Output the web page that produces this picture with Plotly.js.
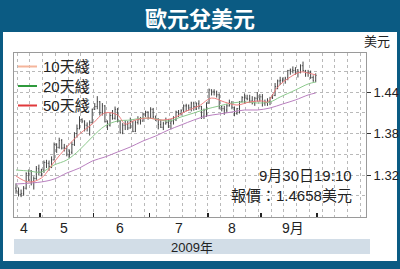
<!DOCTYPE html>
<html><head><meta charset="utf-8">
<script src="https://cdn.plot.ly/plotly-3.0.1.min.js"></script>
<style>html,body{margin:0;padding:0;background:#0b5b83;} #chart{width:400px;height:269px;}</style>
</head><body><div id="chart"></div>
<script>
const titleText = '歐元兌美元';
const unitText = '美元';
const yearText = '2009年';
const noteLines = ['9月30日19:10', '報價：1.4658美元'];

const dates = [
'2009-04-17','2009-04-20','2009-04-21','2009-04-22','2009-04-23','2009-04-24','2009-04-27','2009-04-28','2009-04-29','2009-04-30',
'2009-05-01','2009-05-04','2009-05-05','2009-05-06','2009-05-07','2009-05-08','2009-05-11','2009-05-12','2009-05-13','2009-05-14','2009-05-15','2009-05-18','2009-05-19','2009-05-20','2009-05-21','2009-05-22','2009-05-25','2009-05-26','2009-05-27','2009-05-28','2009-05-29',
'2009-06-01','2009-06-02','2009-06-03','2009-06-04','2009-06-05','2009-06-08','2009-06-09','2009-06-10','2009-06-11','2009-06-12','2009-06-15','2009-06-16','2009-06-17','2009-06-18','2009-06-19','2009-06-22','2009-06-23','2009-06-24','2009-06-25','2009-06-26','2009-06-29','2009-06-30',
'2009-07-01','2009-07-02','2009-07-03','2009-07-06','2009-07-07','2009-07-08','2009-07-09','2009-07-10','2009-07-13','2009-07-14','2009-07-15','2009-07-16','2009-07-17','2009-07-20','2009-07-21','2009-07-22','2009-07-23','2009-07-24','2009-07-27','2009-07-28','2009-07-29','2009-07-30','2009-07-31',
'2009-08-03','2009-08-04','2009-08-05','2009-08-06','2009-08-07','2009-08-10','2009-08-11','2009-08-12','2009-08-13','2009-08-14','2009-08-17','2009-08-18','2009-08-19','2009-08-20','2009-08-21','2009-08-24','2009-08-25','2009-08-26','2009-08-27','2009-08-28','2009-08-31',
'2009-09-01','2009-09-02','2009-09-03','2009-09-04','2009-09-07','2009-09-08','2009-09-09','2009-09-10','2009-09-11','2009-09-14','2009-09-15','2009-09-16','2009-09-17','2009-09-18','2009-09-21','2009-09-22','2009-09-23','2009-09-24','2009-09-25','2009-09-28','2009-09-29','2009-09-30'];

const openV = [
1.3010,1.2970,1.2920,1.2930,1.3010,1.3220,1.3260,1.3110,1.3150,1.3290,
1.3240,1.3270,1.3380,1.3370,1.3320,1.3420,1.3640,1.3600,1.3700,1.3590,1.3600,1.3500,1.3530,1.3640,1.3800,1.3870,1.4000,1.3980,1.3920,1.3890,1.3960,
1.4150,1.4190,1.4260,1.4100,1.4200,1.3970,1.3920,1.4060,1.4020,1.4150,1.3980,1.3810,1.3920,1.3930,1.3880,1.3970,1.3830,1.3960,1.4000,1.3980,1.4080,1.4110,
1.4030,1.4150,1.4040,1.4010,1.3930,1.3890,1.3940,1.3960,1.3950,1.3980,1.4000,1.4110,1.4090,1.4130,1.4200,1.4200,1.4170,1.4240,1.4190,1.4230,1.4190,1.4050,1.4140,
1.4240,1.4430,1.4410,1.4400,1.4360,1.4190,1.4160,1.4140,1.4200,1.4240,1.4180,1.4090,1.4160,1.4260,1.4320,1.4310,1.4300,1.4270,1.4240,1.4310,1.4300,
1.4330,1.4240,1.4250,1.4260,1.4310,1.4350,1.4480,1.4560,1.4570,1.4570,1.4600,1.4710,1.4720,1.4710,1.4720,1.4680,1.4780,1.4710,1.4680,1.4680,1.4610,1.4560];
const highV = [
1.3080,1.3020,1.2990,1.3040,1.3240,1.3280,1.3270,1.3180,1.3330,1.3350,
1.3290,1.3410,1.3420,1.3410,1.3470,1.3670,1.3660,1.3740,1.3720,1.3650,1.3630,1.3570,1.3680,1.3820,1.3930,1.4050,1.4020,1.3990,1.3960,1.3990,1.4160,
1.4240,1.4340,1.4270,1.4240,1.4210,1.3990,1.4100,1.4140,1.4190,1.4170,1.3990,1.3950,1.3990,1.3980,1.4030,1.3980,1.3990,1.4050,1.4040,1.4100,1.4130,1.4120,
1.4180,1.4170,1.4060,1.4020,1.4000,1.3970,1.4030,1.4010,1.4010,1.4050,1.4130,1.4140,1.4150,1.4220,1.4230,1.4220,1.4260,1.4260,1.4250,1.4280,1.4200,1.4160,1.4250,
1.4450,1.4440,1.4440,1.4420,1.4380,1.4200,1.4200,1.4230,1.4290,1.4270,1.4190,1.4170,1.4270,1.4340,1.4380,1.4360,1.4360,1.4340,1.4330,1.4400,1.4370,
1.4370,1.4290,1.4310,1.4330,1.4370,1.4530,1.4580,1.4620,1.4610,1.4620,1.4720,1.4740,1.4770,1.4760,1.4730,1.4800,1.4840,1.4720,1.4720,1.4710,1.4640,1.4670];
const lowV = [
1.2930,1.2890,1.2880,1.2900,1.2990,1.3110,1.3050,1.2990,1.3130,1.3200,
1.3180,1.3230,1.3300,1.3260,1.3300,1.3410,1.3520,1.3580,1.3570,1.3540,1.3470,1.3450,1.3500,1.3620,1.3740,1.3860,1.3950,1.3830,1.3830,1.3770,1.3940,
1.4140,1.4150,1.4060,1.4060,1.3960,1.3850,1.3900,1.4000,1.4000,1.3960,1.3800,1.3790,1.3850,1.3850,1.3870,1.3820,1.3820,1.3930,1.3930,1.3970,1.4040,1.4000,
1.4020,1.4020,1.3980,1.3860,1.3880,1.3850,1.3930,1.3880,1.3860,1.3930,1.3980,1.4040,1.4060,1.4110,1.4120,1.4130,1.4120,1.4130,1.4140,1.4150,1.4010,1.4010,1.4040,
1.4230,1.4350,1.4350,1.4320,1.4150,1.4120,1.4070,1.4100,1.4190,1.4150,1.4050,1.4070,1.4090,1.4250,1.4230,1.4280,1.4240,1.4220,1.4200,1.4260,1.4260,
1.4190,1.4200,1.4200,1.4210,1.4300,1.4340,1.4440,1.4500,1.4540,1.4520,1.4570,1.4650,1.4670,1.4650,1.4610,1.4670,1.4700,1.4620,1.4620,1.4590,1.4550,1.4540];
const closeV = [
1.2970,1.2920,1.2930,1.3010,1.3220,1.3260,1.3110,1.3150,1.3290,1.3240,
1.3270,1.3380,1.3370,1.3320,1.3420,1.3640,1.3600,1.3700,1.3590,1.3600,1.3500,1.3530,1.3640,1.3800,1.3870,1.4000,1.3980,1.3920,1.3890,1.3960,1.4150,
1.4190,1.4260,1.4100,1.4200,1.3970,1.3920,1.4060,1.4020,1.4150,1.3980,1.3810,1.3920,1.3930,1.3880,1.3970,1.3830,1.3960,1.4000,1.3980,1.4080,1.4110,1.4030,
1.4150,1.4040,1.4010,1.3930,1.3890,1.3940,1.3960,1.3950,1.3980,1.4000,1.4110,1.4090,1.4130,1.4200,1.4200,1.4170,1.4240,1.4190,1.4230,1.4190,1.4050,1.4140,1.4240,
1.4430,1.4410,1.4400,1.4360,1.4190,1.4160,1.4140,1.4200,1.4240,1.4180,1.4090,1.4160,1.4260,1.4320,1.4310,1.4300,1.4270,1.4240,1.4310,1.4300,1.4330,
1.4240,1.4250,1.4260,1.4310,1.4350,1.4480,1.4560,1.4570,1.4570,1.4600,1.4710,1.4720,1.4710,1.4720,1.4680,1.4780,1.4710,1.4680,1.4680,1.4610,1.4560,1.4640];

// moving averages
const ma10Dates = ['2009-04-17','2009-04-24','2009-05-01','2009-05-08','2009-05-15','2009-05-22','2009-05-29','2009-06-05','2009-06-12','2009-06-17','2009-06-23','2009-06-30','2009-07-07','2009-07-14','2009-07-21','2009-07-28','2009-08-04','2009-08-11','2009-08-18','2009-08-25','2009-09-01','2009-09-03','2009-09-09','2009-09-16','2009-09-22','2009-09-25','2009-09-30'];
const ma10Vals  = [1.3186,1.3099,1.3157,1.3388,1.3605,1.3793,1.3937,1.4097,1.4068,1.3937,1.3995,1.4024,1.3995,1.4024,1.4125,1.4198,1.4313,1.4256,1.4212,1.4256,1.4270,1.4256,1.4472,1.4617,1.4689,1.4675,1.4646];
const ma20Dates = ['2009-04-17','2009-04-24','2009-05-01','2009-05-08','2009-05-15','2009-05-22','2009-05-29','2009-06-05','2009-06-12','2009-06-19','2009-06-26','2009-07-03','2009-07-10','2009-07-17','2009-07-24','2009-07-31','2009-08-07','2009-08-14','2009-08-21','2009-08-28','2009-09-04','2009-09-10','2009-09-18','2009-09-25','2009-09-30'];
const ma20Vals  = [1.3272,1.3258,1.3243,1.3345,1.3417,1.3562,1.3749,1.3909,1.3981,1.3995,1.4024,1.4010,1.3981,1.4039,1.4097,1.4154,1.4198,1.4241,1.4256,1.4241,1.4256,1.4328,1.4429,1.4516,1.4545];
const ma50Dates = ['2009-04-17','2009-05-01','2009-05-08','2009-05-15','2009-05-22','2009-05-29','2009-06-05','2009-06-12','2009-06-19','2009-06-26','2009-07-03','2009-07-10','2009-07-17','2009-07-24','2009-07-31','2009-08-07','2009-08-14','2009-08-21','2009-08-28','2009-09-04','2009-09-11','2009-09-18','2009-09-25','2009-09-30'];
const ma50Vals  = [1.3070,1.3100,1.3142,1.3229,1.3301,1.3402,1.3460,1.3533,1.3605,1.3692,1.3764,1.3851,1.3923,1.3995,1.4053,1.4082,1.4111,1.4140,1.4140,1.4169,1.4227,1.4285,1.4357,1.4386];

const legendNames = ['10天綫','20天綫','50天綫'];
const legendColors = ['#f5b59b','#2f9a3c','#e0393b'];
const lineColors = ['#ee7f7f','#8cc98c','#b97fbf'];

const monthTicks = ['2009-04-30 12:00','2009-05-29 12:00','2009-06-30 12:00','2009-07-31 12:00','2009-08-31 12:00','2009-09-30 12:00'];
const monthLabelDates = ['2009-04-22','2009-05-14','2009-06-15','2009-07-16','2009-08-14','2009-09-17'];
const monthLabels = ['4','5','6','7','8','9月'];
const yTickVals = [1.32,1.38,1.44];
const yTickText = ['1.32','1.38','1.44'];

const BLUE = '#0b5b83';
const GRID = '#b9b9b9';

const traces = [
  {type:'ohlc', x:dates, open:openV, high:highV, low:lowV, close:closeV,
   increasing:{line:{color:'#444444', width:1}}, decreasing:{line:{color:'#444444', width:1}},
   tickwidth:0.3, hoverinfo:'skip', showlegend:false},
  {type:'scatter', mode:'lines', x:ma50Dates, y:ma50Vals, line:{color:lineColors[2], width:1, shape:'spline'}, hoverinfo:'skip'},
  {type:'scatter', mode:'lines', x:ma20Dates, y:ma20Vals, line:{color:lineColors[1], width:1, shape:'spline'}, hoverinfo:'skip'},
  {type:'scatter', mode:'lines', x:ma10Dates, y:ma10Vals, line:{color:lineColors[0], width:1, shape:'spline'}, hoverinfo:'skip'}
];

// pixel helpers for layout placement (plot area: x 14..366, y 53..217)
const px = x => (x - 14) / 352;
const py = y => (217 - y) / 164;

const shapes = [
  {type:'rect', xref:'paper', yref:'paper', x0:px(3), x1:px(397), y0:py(261), y1:py(32), fillcolor:'#ffffff', line:{width:0}, layer:'below'},
  {type:'rect', xref:'paper', yref:'paper', x0:px(14), x1:px(370), y0:py(254), y1:py(239), fillcolor:'#d2dde7', line:{width:0}, layer:'below'}
];
const legendY = [66.5, 86, 105.5];
const annotations = [];
legendNames.forEach((n, k) => {
  shapes.push({type:'line', xref:'paper', yref:'paper', x0:px(18), x1:px(37), y0:py(legendY[k]), y1:py(legendY[k]), line:{color:legendColors[k], width:2}});
  annotations.push({xref:'paper', yref:'paper', x:px(41), y:py(legendY[k]), xanchor:'left', yanchor:'middle', text:n, showarrow:false,
    font:{family:'Liberation Sans, Noto Sans CJK TC, sans-serif', size:15, color:'#222'}});
});
monthLabels.forEach((m, k) => {
  annotations.push({xref:'x', yref:'paper', x:monthLabelDates[k], y:py(228), xanchor:'center', yanchor:'middle', text:m, showarrow:false,
    font:{family:'Liberation Sans, Noto Sans CJK TC, sans-serif', size:14, color:'#222'}});
});
annotations.push({xref:'paper', yref:'paper', x:px(192), y:py(247), xanchor:'center', yanchor:'middle', text:yearText, showarrow:false,
  font:{family:'Liberation Sans, Noto Sans CJK TC, sans-serif', size:13, color:'#222'}});
annotations.push({xref:'paper', yref:'paper', x:px(377), y:py(42), xanchor:'center', yanchor:'middle', text:unitText, showarrow:false,
  font:{family:'Liberation Sans, Noto Sans CJK TC, sans-serif', size:13, color:'#222'}});
annotations.push({xref:'paper', yref:'paper', x:px(354), y:py(175), xanchor:'right', yanchor:'middle', text:noteLines[0], showarrow:false,
  font:{family:'Liberation Sans, Noto Sans CJK TC, sans-serif', size:15, color:'#222'}});
annotations.push({xref:'paper', yref:'paper', x:px(354), y:py(195), xanchor:'right', yanchor:'middle', text:noteLines[1], showarrow:false,
  font:{family:'Liberation Sans, Noto Sans CJK TC, sans-serif', size:15, color:'#222'}});
// title drawn as an annotation so it sits fully inside the top bar
annotations.push({xref:'paper', yref:'paper', x:px(200), y:py(17), xanchor:'center', yanchor:'middle', text:titleText, showarrow:false,
  font:{family:'Noto Sans CJK TC, sans-serif', size:22, color:'#ffffff', weight:'bold'}});

const layout = {
  width:400, height:269,
  margin:{l:14, r:34, t:53, b:52, pad:0},
  paper_bgcolor:BLUE, plot_bgcolor:'#ffffff',
  showlegend:false,
  font:{family:'Liberation Sans, Arial, sans-serif', color:'#222'},
  xaxis:{type:'date', range:['2009-04-16 05:00','2009-10-27 19:00'], rangebreaks:[{bounds:['sat','mon']}],
    rangeslider:{visible:false}, tickmode:'array', tickvals:monthTicks, showticklabels:false,
    ticks:'inside', ticklen:4, tickwidth:1.5, tickcolor:'#222', showgrid:false,
    minor:{tickmode:'linear', tick0:'2009-04-17 12:00', dtick:7*86400000, showgrid:true, gridcolor:GRID, griddash:'dot', gridwidth:1, ticks:''},
    showline:true, mirror:true, linecolor:'#9a9a9a', linewidth:1, zeroline:false, fixedrange:true},
  yaxis:{side:'right', range:[1.2593,1.4964], tickmode:'array', tickvals:yTickVals, ticktext:yTickText,
    ticks:'outside', ticklen:4, tickwidth:1, tickcolor:'#333',
    tickfont:{family:'Liberation Sans Narrow, Arial Narrow, Liberation Sans, sans-serif', size:13, color:'#222'},
    showgrid:true, gridcolor:GRID, griddash:'dot', gridwidth:1,
    minor:{tickmode:'linear', tick0:1.29, dtick:0.03, showgrid:true, gridcolor:GRID, griddash:'dot', gridwidth:1, ticks:''},
    showline:true, mirror:true, linecolor:'#9a9a9a', linewidth:1, zeroline:false, fixedrange:true},
  shapes:shapes,
  annotations:annotations
};

Plotly.newPlot('chart', traces, layout, {displayModeBar:false, staticPlot:true});
</script></body></html>
